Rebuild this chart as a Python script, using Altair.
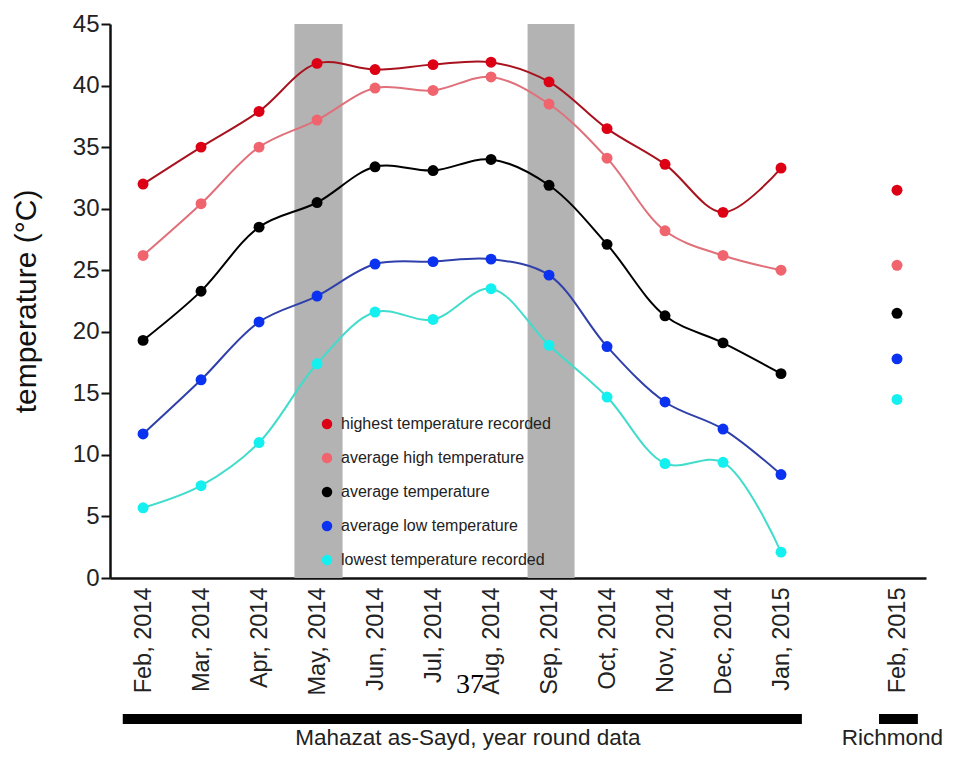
import altair as alt
import pandas as pd

months = ["Feb, 2014", "Mar, 2014", "Apr, 2014", "May, 2014", "Jun, 2014", "Jul, 2014",
          "Aug, 2014", "Sep, 2014", "Oct, 2014", "Nov, 2014", "Dec, 2014", "Jan, 2015"]
richmond_month = "Feb, 2015"
month_pos = list(range(12))
richmond_pos = 13

series = ["highest temperature recorded", "average high temperature", "average temperature",
          "average low temperature", "lowest temperature recorded"]
highest = [32.0, 35.0, 37.9, 41.8, 41.3, 41.7, 41.9, 40.3, 36.5, 33.6, 29.7, 33.3]
avg_high = [26.2, 30.4, 35.0, 37.2, 39.8, 39.6, 40.7, 38.5, 34.1, 28.2, 26.2, 25.0]
average = [19.3, 23.3, 28.5, 30.5, 33.4, 33.1, 34.0, 31.9, 27.1, 21.3, 19.1, 16.6]
avg_low = [11.7, 16.1, 20.8, 22.9, 25.5, 25.7, 25.9, 24.6, 18.8, 14.3, 12.1, 8.4]
lowest = [5.7, 7.5, 11.0, 17.4, 21.6, 21.0, 23.5, 18.9, 14.7, 9.3, 9.4, 2.1]
richmond = [31.5, 25.4, 21.5, 17.8, 14.5]

point_colors = ["#dd0014", "#f0646e", "#000000", "#0a32f0", "#14f0f0"]
line_colors = ["#a8121e", "#e0707a", "#000000", "#3040aa", "#40dccc"]

band_start = [2.61, 6.63]
band_end = [3.44, 7.44]

group_labels = ["Mahazat as-Sayd, year round data", "Richmond"]
group_start = [-0.35, 12.69]
group_end = [11.36, 13.36]
group_mid = [5.6, 12.92]

all_vals = [highest, avg_high, average, avg_low, lowest]
rows = []
for s, vals in zip(series, all_vals):
    for p, v in zip(month_pos, vals):
        rows.append({"series": s, "line": "L-" + s, "pos": p, "temp": v, "site": "M"})
for s, v in zip(series, richmond):
    rows.append({"series": s, "line": "L-" + s, "pos": richmond_pos, "temp": v, "site": "R"})
df = pd.DataFrame(rows)

bands = pd.DataFrame({"x": band_start, "x2": band_end})
groups = pd.DataFrame({"label": group_labels, "x": group_start, "x2": group_end, "mid": group_mid})

tick_labels = months + ["", richmond_month]
label_expr = "[" + ",".join("'" + t + "'" for t in tick_labels) + "][datum.value]"

FONT = "Liberation Sans"
xscale = alt.Scale(domain=[-0.57, 13.5], nice=False, zero=False)
yscale = alt.Scale(domain=[0, 45], nice=False)

xaxis = alt.Axis(values=month_pos + [richmond_pos], labelExpr=label_expr, labelAngle=-90,
                 ticks=False, grid=False, title=None, labelFontSize=23.5, labelFont=FONT,
                 labelColor="#222", labelPadding=9, domainWidth=2.5, domainColor="#111",
                 labelOverlap=False)
yaxis = alt.Axis(values=[0, 5, 10, 15, 20, 25, 30, 35, 40, 45], grid=False,
                 title="temperature (°C)", titleFontSize=30, titleFont=FONT,
                 titleFontWeight="normal", titleColor="#111", titlePadding=31,
                 labelFontSize=24, labelFont=FONT, labelColor="#222", labelPadding=2,
                 tickSize=9, tickWidth=2, tickColor="#111", domainWidth=2.5, domainColor="#111")

band_layer = alt.Chart(bands).mark_rect(color="#b3b3b3").encode(
    x=alt.X("x:Q", scale=xscale, axis=xaxis),
    x2="x2:Q",
    y=alt.value(0),
    y2=alt.value(554),
)

lines = alt.Chart(df).transform_filter(alt.datum.site == "M").mark_line(
    interpolate="catmull-rom", strokeWidth=2
).encode(
    x=alt.X("pos:Q", scale=xscale),
    y=alt.Y("temp:Q", scale=yscale, axis=yaxis),
    stroke=alt.Stroke("line:N", scale=alt.Scale(domain=["L-" + s for s in series], range=line_colors),
                      legend=None),
    detail="line:N",
)

points = alt.Chart(df).mark_point(filled=True, size=120, opacity=1, shape="circle").encode(
    x=alt.X("pos:Q", scale=xscale),
    y=alt.Y("temp:Q", scale=yscale),
    color=alt.Color("series:N", scale=alt.Scale(domain=series, range=point_colors),
                    legend=alt.Legend(orient="none", legendX=209, legendY=392, title=None,
                                      labelFontSize=16, labelFont=FONT, labelColor="#222",
                                      labelLimit=0,
                                      symbolType="circle", symbolSize=110, symbolStrokeWidth=0,
                                      symbolOpacity=1,
                                      rowPadding=18, labelOffset=6, direction="vertical")),
)

bars = alt.Chart(groups).mark_rule(strokeWidth=10, color="#000").encode(
    x=alt.X("x:Q", scale=xscale),
    x2="x2:Q",
    y=alt.value(695),
)
group_text = alt.Chart(groups).mark_text(fontSize=22.5, font=FONT, color="#222", baseline="middle").encode(
    x=alt.X("mid:Q", scale=xscale),
    y=alt.value(714),
    text="label:N",
)

page_num = alt.Chart(pd.DataFrame({"t": ["37"]})).mark_text(
    fontSize=28, font="Liberation Serif", color="#000", baseline="middle"
).encode(x=alt.value(360), y=alt.value(661), text="t:N")

chart = alt.layer(band_layer, lines, points, bars, group_text, page_num).resolve_scale(
    color="independent", stroke="independent"
).properties(
    width=816, height=554,
    padding={"left": 102, "top": 16, "right": 20, "bottom": 174},
    autosize=alt.AutoSizeParams(type="none"),
).configure_view(stroke=None)

chart.save("out.html", embed_options={"renderer": "svg", "actions": False})
